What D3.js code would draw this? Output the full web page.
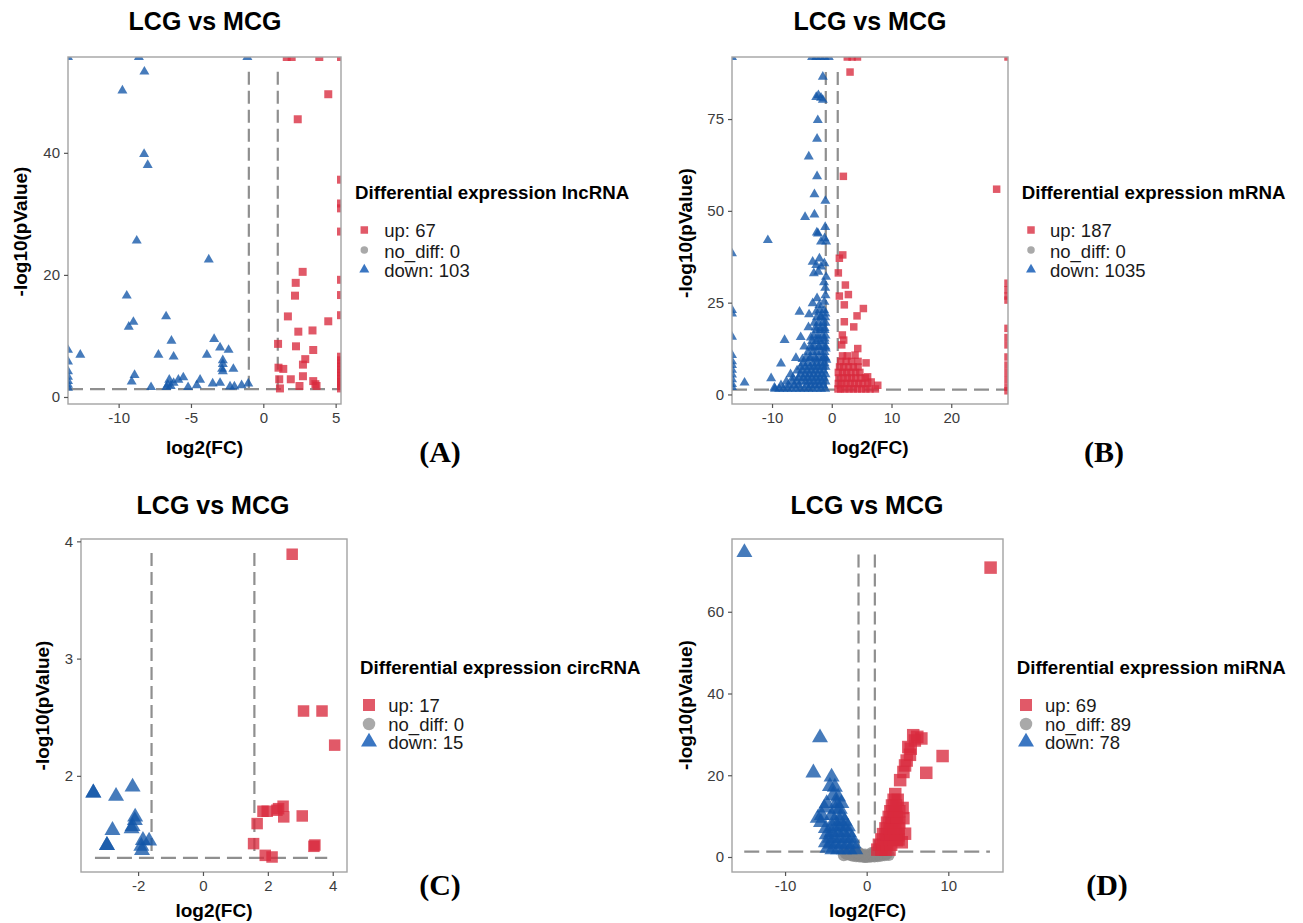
<!DOCTYPE html>
<html><head><meta charset="utf-8">
<script src="https://cdn.jsdelivr.net/npm/d3@7"></script>
<style>body{margin:0;background:#fff;} svg{display:block;}</style>
</head><body>
<svg id="chart" width="1303" height="923"></svg>
<script>
// ---------- Panel A: lncRNA ----------
const lncUp = [
[1.62,58],[1.96,58],[3.87,58],[5.6,58],
[4.49,49.6],[2.38,45.5],
[5.6,35.6],[5.6,31.7],[5.6,30.9],[5.6,27.1],[5.6,19.2],[5.6,16.7],[5.6,13.4],
[5.6,6.6],[5.6,6.0],[5.6,5.5],[5.6,5.0],[5.6,4.5],[5.6,4.0],[5.6,3.5],[5.6,3.0],[5.6,2.5],[5.6,2.2],[5.6,1.8],[5.6,1.4],
[2.72,20.5],[2.24,18.7],[2.19,16.6],[1.7,13.2],[4.49,12.4],[2.42,10.7],[3.4,10.9],[1.02,8.7],[2.26,8.3],[3.45,7.7],
[2.9,6.2],[2.74,5.3],[1.05,4.8],[1.38,4.6],[1.1,2.9],[1.9,2.9],[2.74,3.4],[3.45,2.6],[3.6,2.1],[3.68,1.8],[2.5,1.8],[1.15,1.4]
];
const lncDown = [
[-13.8,58],[-8.6,58],[-1.1,58],
[-8.22,53.3],[-9.74,50.2],[-8.24,39.8],[-7.99,38.0],[-8.75,25.6],[-3.77,22.5],[-9.44,16.6],
[-8.98,12.3],[-9.3,11.5],[-6.72,13.2],[-6.35,9.2],[-3.4,9.5],[-2.99,8.1],[-2.4,7.7],[-7.25,6.9],[-6.2,6.6],
[-3.9,6.9],[-12.65,6.9],[-2.8,6.0],[-2.8,5.4],[-2.85,4.6],[-2.8,4.2],[-2.07,4.6],[-8.9,3.6],[-9.1,2.5],
[-5.53,3.2],[-5.87,2.8],[-4.37,2.8],[-6.5,2.8],[-6.6,2.0],[-6.4,1.8],[-6.2,2.3],[-6.7,1.6],[-7.76,1.6],
[-5.2,1.6],[-4.6,1.9],[-3.5,2.2],[-2.99,2.3],[-2.3,1.7],[-2.0,1.7],[-1.5,1.9],[-1.04,2.2],
[-13.8,7.7],[-13.8,5.8],[-13.8,4.2],[-13.8,3.3],[-13.8,2.6],[-13.8,2.0],[-13.8,1.5]
];
const lncNoDiff = [];

// ---------- Panel B: mRNA ----------
const mrnaUp = [
[2.6,95],[3.4,95],[4.3,95],[30,95],
[3.06,87.8],[1.94,59.4],[27.6,55.9],
[1.84,38.0],[1.27,37.1],[1.1,33.1],[2.28,29.8],[2.78,27.2],[1.27,26.8],[2.1,24.4],[5.29,23.4],[4.23,21.4],
[2.1,19.8],[3.68,18.4],[1.77,16.2],[2.0,14.8],[1.67,13.5],[4.35,12.5],[3.9,10.7],[5.74,8.6],[7.7,2.5],[6.0,4.8],[6.6,3.4],
[30,30.3],[30,28.5],[30,26.8],[30,25.7],[30,18.0],[30,15.5],[30,13.5],[30,10.2],[30,8.0],[30,6.0],[30,4.0],[30,2.0],[30,1.0],
[1.05,1.5],[1.5,1.5],[2.2,1.5],[2.9,1.5],[3.6,1.5],[4.3,1.5],[5.0,1.5],[5.7,1.5],[6.4,1.5],[7.3,1.5],
[1.1,3],[1.7,3],[2.4,3],[3.1,3],[3.8,3],[4.5,3],[5.2,3],[6.0,3],
[1.2,4.5],[1.9,4.5],[2.6,4.5],[3.3,4.5],[4.0,4.5],[4.8,4.5],[5.6,4.5],
[1.1,6],[1.8,6],[2.5,6],[3.2,6],[4.0,6],[4.7,6],
[1.3,7.5],[2.0,7.5],[2.8,7.5],[3.6,7.5],[4.4,7.5],
[1.5,9],[2.4,9],[3.3,9],[4.4,9],
[1.8,10.5],[2.6,10.5]
];
const mrnaDown = [
[-17,95],[-3.3,95],[-2.6,95],[-1.9,95],[-1.2,95],[-0.5,95],
[-1.5,86.5],[-2.24,81.5],[-1.8,80.8],[-2.6,81],[-1.5,80.2],[-2.34,74.7],[-2.46,69.6],[-3.85,64.8],[-2.46,59.4],
[-2.9,54.5],[-1.07,52.7],[-4.47,48.3],[-2.9,49.0],[-1.1,45.6],[-2.5,44.1],
[-10.7,42.0],[-2.3,43.8],[-1.2,42.5],[-1.8,41.6],[-0.95,41.6],
[-3.2,36.1],[-2.07,37.0],[-2.6,35.2],[-1.8,34.8],[-1.24,35.7],[-3.0,33.0],[-2.24,33.4],[-0.95,32.0],
[-2.46,26.2],[-3.2,24.8],[-2.07,24.3],[-1.24,25.2],[-5.4,22.5],[-3.8,21.8],[-2.6,22.5],[-1.8,21.3],[-1.07,22.0],
[-3.9,18.3],[-2.7,18.2],[-1.9,18.0],[-1.2,18.1],[-7.9,14.8],[-5.2,15.6],[-3.5,15.5],[-2.3,15.0],[-1.2,15.2],
[-4.6,13.0],[-3.3,12.7],[-2.1,12.9],[-1.0,12.5],[-8.5,8.4],[-6.0,9.9],[-4.9,9.6],[-3.7,9.8],[-2.6,9.5],[-1.5,9.8],[-0.9,9.4],
[-10.15,4.4],[-14.6,3.2],[-9.6,1.8],
[-17,38.4],[-17,23.0],[-17,22.0],[-17,15.7],[-17,10.7],[-17,9.0],[-17,8.0],[-17,6.7],[-17,5.4],[-17,4.1],[-17,2.8],[-17,2.0],
[-9.5,1.5],[-8.8,1.5],[-8.1,1.5],[-7.4,1.5],[-6.7,1.5],[-6.0,1.5],[-5.3,1.5],[-4.6,1.5],[-3.9,1.5],[-3.2,1.5],[-2.5,1.5],[-1.8,1.5],[-1.1,1.5],
[-8.5,2.5],[-7.3,2.5],[-6.3,2.5],[-5.5,2.5],[-4.2,2.5],[-3.5,2.5],[-2.8,2.5],[-2.1,2.5],[-1.4,2.5],
[-7.6,3.5],[-6.6,3.5],[-5.8,3.5],[-5.0,3.5],[-4.3,3.5],[-3.6,3.5],[-2.9,3.5],[-2.2,3.5],[-1.6,3.5],[-1.05,3.5],
[-6.5,4.5],[-5.6,4.5],[-4.8,4.5],[-4.1,4.5],[-3.4,4.5],[-2.7,4.5],[-2.0,4.5],[-1.3,4.5],
[-6.9,5.5],[-5.2,5.5],[-4.4,5.5],[-3.7,5.5],[-3.0,5.5],[-2.3,5.5],[-1.6,5.5],[-1.05,5.5],
[-5.8,6.5],[-5.0,6.5],[-4.2,6.5],[-3.5,6.5],[-2.8,6.5],[-2.1,6.5],[-1.4,6.5],
[-5.2,7.5],[-4.4,7.5],[-3.6,7.5],[-2.9,7.5],[-2.2,7.5],[-1.5,7.5],[-1.05,7.5],
[-4.8,8.5],[-4.0,8.5],[-3.2,8.5],[-2.5,8.5],[-1.8,8.5],[-1.2,8.5],
[-4.3,10],[-3.5,10],[-2.8,10],[-2.1,10],[-1.4,10],[-1.05,10],
[-4.0,11.5],[-3.2,11.5],[-2.5,11.5],[-1.8,11.5],[-1.2,11.5],
[-3.6,13],[-2.9,13],[-2.2,13],[-1.5,13],[-1.05,13],
[-3.3,14.5],[-2.6,14.5],[-1.9,14.5],[-1.2,14.5],
[-3.0,16],[-2.3,16],[-1.6,16],[-1.05,16],
[-2.6,17.5],[-1.9,17.5],[-1.2,17.5],
[-2.9,19.5],[-2.2,19.5],[-1.5,19.5],[-1.05,19.5],
[-2.5,21],[-1.8,21],[-1.1,21],
[-2.0,23],[-1.3,23],[-1.05,27],[-1.1,29],[-1.3,30.5]
];
const mrnaNoDiff = [];

// ---------- Panel C: circRNA ----------
const circUp = [
[2.75,3.89],[3.10,2.553],[3.67,2.553],[4.06,2.262],[1.85,1.698],[1.98,1.698],[2.28,1.707],[2.47,1.741],
[2.49,1.65],[3.06,1.658],[1.67,1.593],[1.56,1.422],[3.42,1.399],[1.92,1.322],[2.13,1.308],[2.33,1.72],[3.45,1.41]
];
const circDown = [
[-3.38,1.855],[-3.38,1.855],[-2.17,1.906],[-2.68,1.827],[-2.09,1.650],[-2.17,1.570],[-2.79,1.536],[-2.96,1.408],
[-2.96,1.408],[-1.85,1.450],[-1.66,1.445],[-1.88,1.365],[-2.1,1.62],[-1.9,1.40],[-2.2,1.55]
];
const circNoDiff = [];

// ---------- Panel D: miRNA ----------
const mirUp = [
[15.18,70.8],[9.3,24.7],[7.3,20.6],
[5.7,29.8],[6.7,29.0],[6.2,29.4],[5.9,28.5],[5.1,26.9],[5.4,26.5],[5.3,25.0],[4.9,23.6],[4.7,22.4],[4.5,20.8],[4.1,18.8],
[3.9,5.3],[4.7,5.7],[3.7,4.1],[4.3,3.6],[4.5,9.5],[4.4,12.0],
[1.3,1.8],[1.8,1.8],[2.3,1.8],[2.8,1.8],
[1.5,3.0],[2.0,3.0],[2.5,3.0],[3.0,3.0],
[1.8,4.3],[2.3,4.3],[2.8,4.3],[3.3,4.3],[3.9,4.3],
[2.0,5.6],[2.5,5.6],[3.0,5.6],[3.6,5.6],
[2.3,7.0],[2.8,7.0],[3.3,7.0],[3.9,7.0],
[2.5,8.4],[3.0,8.4],[3.5,8.4],[4.0,8.4],
[2.7,9.8],[3.2,9.8],[3.7,9.8],
[2.9,11.2],[3.4,11.2],[4.0,11.2],
[3.1,12.6],[3.6,12.6],[3.3,14.0],[3.8,14.0],[3.5,15.4]
];
const mirDown = [
[-14.98,74.5],[-5.72,29.2],[-6.53,20.6],[-4.3,19.6],[-4.5,17.3],[-3.9,17.1],[-4.1,15.1],[-3.5,14.7],
[-4.9,13.1],[-3.7,13.1],[-3.1,13.1],[-5.5,10.2],[-4.3,10.2],[-3.1,10.2],[-6.0,9.5],[-3.8,11.7],[-3.3,11.7],
[-5.2,12.0],[-5.6,8.5],[-5.0,7.0],[-4.9,5.5],[-5.0,3.5],[-4.8,2.2],
[-4.2,1.8],[-3.5,1.8],[-2.8,1.8],[-2.1,1.8],[-1.4,1.8],
[-4.4,3.2],[-3.7,3.2],[-3.0,3.2],[-2.3,3.2],[-1.6,3.2],
[-4.5,4.6],[-3.8,4.6],[-3.1,4.6],[-2.4,4.6],[-1.8,4.6],
[-4.3,6.0],[-3.6,6.0],[-2.9,6.0],[-2.2,6.0],
[-4.2,7.4],[-3.5,7.4],[-2.8,7.4],[-2.3,7.4],
[-4.0,8.8],[-3.3,8.8],[-2.7,8.8]
];
const mirNoDiff = [
[-2.6,1.0],[-2.4,0.7],[-2.2,1.1],[-2.0,0.5],[-1.9,0.9],[-1.7,0.3],[-1.6,1.2],[-1.5,0.6],[-1.3,0.2],[-1.2,0.9],
[-1.1,0.5],[-0.9,0.1],[-0.8,0.7],[-0.7,0.3],[-0.5,0.05],[-0.4,0.4],[-0.3,0.15],[-0.15,0.02],[0,0.08],[0.15,0.25],
[0.3,0.05],[0.4,0.4],[0.55,0.15],[0.7,0.6],[0.8,0.3],[0.95,0.1],[1.1,0.8],[1.2,0.4],[1.35,0.2],[1.5,1.0],
[1.6,0.6],[1.75,0.3],[1.9,1.2],[2.0,0.7],[2.2,0.4],[2.3,1.0],[2.5,0.8],[2.7,0.5],[-2.8,0.4],[-1.0,1.1],
[0.6,1.0],[-0.2,0.6],[1.0,1.2]
];

// ---------- ticks & labels ----------
const ticksAx = [-10,-5,0,5];    const ticksAy = [0,20,40];
const ticksBx = [-10,0,10,20];   const ticksBy = [0,25,50,75];
const ticksCx = [-2,0,2,4];      const ticksCy = [2,3,4];
const ticksDx = [-10,0,10];      const ticksDy = [0,20,40,60];
const legendA = ["up: 67","no_diff: 0","down: 103"];
const legendB = ["up: 187","no_diff: 0","down: 1035"];
const legendC = ["up: 17","no_diff: 0","down: 15"];
const legendD = ["up: 69","no_diff: 89","down: 78"];
const legendTitles = ["Differential expression lncRNA","Differential expression mRNA","Differential expression circRNA","Differential expression miRNA"];
const panelLetters = ["(A)","(B)","(C)","(D)"];
const chartTitle = "LCG vs MCG";

const RED = "#D92A3D", BLUE = "#1256A8", GRAY = "#8a8a8a";
const svg = d3.select("#chart");
const SANS = "'Liberation Sans', Arial, Helvetica, sans-serif";

const panels = [
 {id:"A", up:lncUp, down:lncDown, nd:lncNoDiff, xd:[-13.5,5.37], yd:[-1.15,55.7], box:{l:68,t:57,r:341,b:404},
  xt:ticksAx, yt:ticksAy, fc:1, vtop:53.3, hx:[-13.5,5.37], sq:8, tri:10, circ:8,
  leg:legendA, lt:legendTitles[0], legX:355, legTitleY:199, legSymX:364.3, legTextX:384.3, legYs:[230,250,269.5], legTextYs:[237.3,257.5,276.7], legSz:"small",
  letter:panelLetters[0], letX:440, letY:462, titleX:205, titleY:29.5, xlabY:453.5, ylabX:27, ylabY:231.5},
 {id:"B", up:mrnaUp, down:mrnaDown, nd:mrnaNoDiff, xd:[-16.7,29.5], yd:[-2.6,91.9], box:{l:732,t:57,r:1008,b:404},
  xt:ticksBx, yt:ticksBy, fc:1, vtop:87.8, hx:[-16.7,29.5], sq:7.5, tri:10, circ:8,
  leg:legendB, lt:legendTitles[1], legX:1021.7, legTitleY:199, legSymX:1031, legTextX:1050, legYs:[230,250,269.5], legTextYs:[237.3,257.5,276.7], legSz:"small",
  letter:panelLetters[1], letX:1104, letY:462, titleX:870, titleY:29.5, xlabY:453.5, ylabX:692, ylabY:233},
 {id:"C", up:circUp, down:circDown, nd:circNoDiff, xd:[-3.76,4.44], yd:[1.18,4.02], box:{l:81,t:539,r:347,b:872},
  xt:ticksCx, yt:ticksCy, fc:1.585, vtop:3.9, hx:[-3.33,3.83], sq:11.5, tri:16, circ:12,
  leg:legendC, lt:legendTitles[2], legX:360, legTitleY:674, legSymX:369, legTextX:388.3, legYs:[705,724,742], legTextYs:[711.7,730.7,749.3], legSz:"big",
  letter:panelLetters[2], letX:440, letY:895, titleX:213, titleY:513.5, xlabY:916.5, ylabX:48.6, ylabY:705.5},
 {id:"D", up:mirUp, down:mirDown, nd:mirNoDiff, xd:[-16.5,16.7], yd:[-3.67,77.8], box:{l:732,t:539,r:1003,b:872},
  xt:ticksDx, yt:ticksDy, fc:1, vtop:74, hx:[-15,15.1], sq:12.5, tri:16, circ:12,
  leg:legendD, lt:legendTitles[3], legX:1016.7, legTitleY:674, legSymX:1026, legTextX:1045, legYs:[705,724,742], legTextYs:[711.7,730.7,749.3], legSz:"big",
  letter:panelLetters[3], letX:1107, letY:895, titleX:867, titleY:514, xlabY:916.5, ylabX:692, ylabY:705}
];

function triArea(w){ return Math.sqrt(3)/4*w*w; }

panels.forEach(p => {
  const b = p.box;
  const g = svg.append("g");
  const x = d3.scaleLinear().domain(p.xd).range([b.l, b.r]).clamp(true);
  const y = d3.scaleLinear().domain(p.yd).range([b.b, b.t]).clamp(true);
  const xs = d3.scaleLinear().domain(p.xd).range([b.l, b.r]);
  const ys = d3.scaleLinear().domain(p.yd).range([b.b, b.t]);

  const clipId = "clip" + p.id;
  svg.append("clipPath").attr("id", clipId).append("rect")
     .attr("x", b.l).attr("y", b.t).attr("width", b.r - b.l).attr("height", b.b - b.t);

  const plot = g.append("g").attr("clip-path", `url(#${clipId})`);

  // threshold lines
  const thr = -Math.log10(0.05);
  const lines = plot.append("g").attr("stroke", "#8f8f8f").attr("stroke-width", 2.2)
     .attr("stroke-dasharray", "13,6").attr("fill", "none");
  [-p.fc, p.fc].forEach(v => {
    lines.append("line").attr("x1", xs(v)).attr("x2", xs(v)).attr("y1", ys(p.vtop)).attr("y2", ys(thr));
  });
  lines.append("line").attr("x1", xs(p.hx[0])).attr("x2", xs(p.hx[1])).attr("y1", ys(thr)).attr("y2", ys(thr))
       .attr("stroke-dasharray", "15,7");

  // points
  plot.append("g").selectAll("path").data(p.nd).join("path")
    .attr("d", d3.symbol(d3.symbolCircle, Math.PI * (p.circ/2) ** 2))
    .attr("transform", d => `translate(${x(d[0])},${y(d[1])})`)
    .attr("fill", GRAY).attr("fill-opacity", 0.8);
  plot.append("g").selectAll("path").data(p.down).join("path")
    .attr("d", d3.symbol(d3.symbolTriangle, triArea(p.tri)))
    .attr("transform", d => `translate(${x(d[0])},${y(d[1])})`)
    .attr("fill", BLUE).attr("fill-opacity", 0.78);
  plot.append("g").selectAll("path").data(p.up).join("path")
    .attr("d", d3.symbol(d3.symbolSquare, p.sq * p.sq))
    .attr("transform", d => `translate(${x(d[0])},${y(d[1])})`)
    .attr("fill", RED).attr("fill-opacity", 0.78);

  // frame
  g.append("rect").attr("x", b.l).attr("y", b.t).attr("width", b.r - b.l).attr("height", b.b - b.t)
    .attr("fill", "none").attr("stroke", "#a3a3a3").attr("stroke-width", 1.4);

  // axes
  const ax = g.append("g").attr("transform", `translate(0,${b.b})`)
    .call(d3.axisBottom(xs).tickValues(p.xt).tickSize(4).tickSizeOuter(0).tickPadding(4).tickFormat(d3.format("d")));
  const ay = g.append("g").attr("transform", `translate(${b.l},0)`)
    .call(d3.axisLeft(ys).tickValues(p.yt).tickSize(4).tickSizeOuter(0).tickPadding(4).tickFormat(d3.format("d")));
  [ax, ay].forEach(a => {
    a.select(".domain").remove();
    a.selectAll(".tick line").attr("stroke", "#555").attr("stroke-width", 1.2);
    a.selectAll(".tick text").attr("fill", "#3c3c3c").style("font-size", "15px").style("font-family", SANS);
  });
  ax.selectAll(".tick text").text(d => d < 0 ? "-" + Math.abs(d) : d);

  // titles
  g.append("text").attr("x", p.titleX).attr("y", p.titleY).attr("text-anchor", "middle")
    .style("font-family", SANS).style("font-weight", "bold").style("font-size", "25px").text(chartTitle);
  g.append("text").attr("x", (b.l + b.r) / 2).attr("y", p.xlabY).attr("text-anchor", "middle")
    .style("font-family", SANS).style("font-weight", "bold").style("font-size", "19px").text("log2(FC)");
  g.append("text").attr("transform", `translate(${p.ylabX},${p.ylabY}) rotate(-90)`).attr("text-anchor", "middle")
    .style("font-family", SANS).style("font-weight", "bold").style("font-size", "19px").text("-log10(pValue)");

  // legend
  const lg = g.append("g");
  lg.append("text").attr("x", p.legX).attr("y", p.legTitleY)
    .style("font-family", SANS).style("font-weight", "bold").style("font-size", "18.7px").text(p.lt);
  const big = p.legSz === "big";
  const sqS = big ? 12 : 7.5, cD = big ? 12.5 : 7.5, tW = big ? 16 : 10;
  const syms = [
    {d: d3.symbol(d3.symbolSquare, sqS * sqS)(), c: RED, o: 0.78},
    {d: d3.symbol(d3.symbolCircle, Math.PI * (cD/2) ** 2)(), c: "#a0a0a0", o: 0.9},
    {d: d3.symbol(d3.symbolTriangle, triArea(tW))(), c: "#2f6fbf", o: 0.95}
  ];
  p.leg.forEach((t, i) => {
    lg.append("path").attr("d", syms[i].d).attr("transform", `translate(${p.legSymX},${p.legYs[i]})`)
      .attr("fill", syms[i].c).attr("fill-opacity", syms[i].o);
    lg.append("text").attr("x", p.legTextX).attr("y", p.legTextYs[i])
      .style("font-family", SANS).style("font-size", "18.5px").attr("fill", "#1a1a1a").text(t);
  });

  // panel letter
  g.append("text").attr("x", p.letX).attr("y", p.letY).attr("text-anchor", "middle")
    .style("font-family", "'Liberation Serif', 'Times New Roman', serif").style("font-weight", "bold")
    .style("font-size", "30px").text(p.letter);
});
</script>
</body></html>
